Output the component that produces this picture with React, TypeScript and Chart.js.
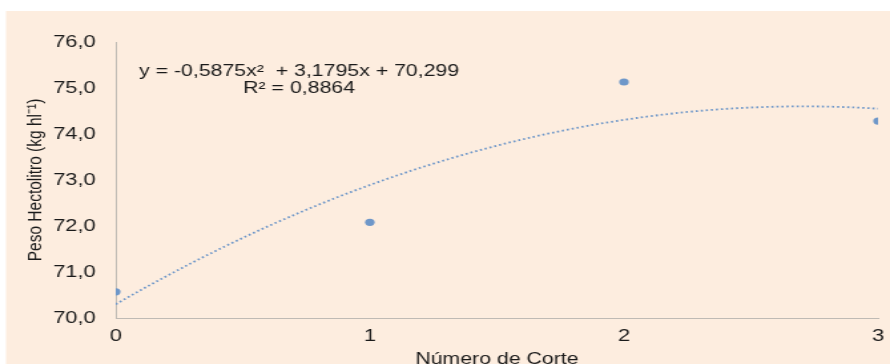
import React, { useEffect, useRef } from "react";
import { Chart, registerables } from "chart.js";

Chart.register(...registerables);

// ---- data ----
const cutNumbers = [0, 1, 2, 3];
const hectoliterWeight = [70.57, 72.08, 75.13, 74.28];
const trendCoefficients = [-0.5875, 3.1795, 70.299]; // y = a x² + b x + c (printed on the chart)
const yTickValues = [70, 71, 72, 73, 74, 75, 76];
const equationLines = ["y = -0,5875x²  + 3,1795x + 70,299", "R² = 0,8864"];
const xTitle = "Número de Corte";
const yTitle = "Peso Hectolitro (kg hl⁻¹)";

// ---- look ----
const STRETCH = 1.33;
const OUT_W = 890;
const OUT_H = 364;
const W = Math.round(OUT_W / STRETCH);
const FONT = "'Liberation Sans', Arial, sans-serif";
const PEACH = "#FDEDDF";
const BLUE = "#6E97C9";
const AXIS = "#BFBAB4";
const TEXT = "#1a1a1a";

const trendSteps = 60;
const trendData = Array.from({ length: trendSteps + 1 }, (_, i) => {
  const x0 = cutNumbers[0];
  const x1 = cutNumbers[cutNumbers.length - 1];
  const x = x0 + ((x1 - x0) * i) / trendSteps;
  const [a, b, c] = trendCoefficients;
  return { x, y: a * x * x + b * x + c };
});

const bgPlugin = {
  id: "bgPanel",
  beforeDraw(chart: any) {
    const { ctx } = chart;
    ctx.save();
    ctx.fillStyle = PEACH;
    ctx.fillRect(6 / STRETCH, 11, chart.width, chart.height);
    ctx.restore();
  },
};

const equationPlugin = {
  id: "equation",
  afterDraw(chart: any) {
    const { ctx, chartArea } = chart;
    const cx = 299 / STRETCH;
    ctx.save();
    ctx.fillStyle = TEXT;
    ctx.font = `16px ${FONT}`;
    ctx.textAlign = "center";
    ctx.textBaseline = "middle";
    equationLines.forEach((line, i) => {
      ctx.fillText(line, cx, chartArea.top + 30 + i * 17);
    });
    ctx.restore();
  },
};

export default function App() {
  const ref = useRef<HTMLCanvasElement | null>(null);

  useEffect(() => {
    document.body.style.margin = "0";
    const canvas = ref.current!;
    const chart = new Chart(canvas, {
      type: "scatter",
      data: {
        datasets: [
          {
            label: "Tendência",
            data: trendData,
            showLine: true,
            borderColor: BLUE,
            borderWidth: 1.8,
            borderDash: [1.6, 2.2],
            pointRadius: 0,
            fill: false,
            tension: 0,
            order: 2,
          },
          {
            label: "Peso Hectolitro",
            data: cutNumbers.map((x, i) => ({ x, y: hectoliterWeight[i] })),
            backgroundColor: BLUE,
            borderColor: BLUE,
            pointRadius: 3.6,
            pointBorderWidth: 0,
            order: 1,
          },
        ],
      },
      options: {
        responsive: false,
        animation: false,
        devicePixelRatio: 1,
        layout: { autoPadding: false, padding: { left: 0, top: 42, right: 9, bottom: 0 } },
        plugins: {
          legend: { display: false },
          tooltip: { enabled: false },
        },
        scales: {
          x: {
            type: "linear",
            min: cutNumbers[0],
            max: cutNumbers[cutNumbers.length - 1],
            afterFit: (s: any) => {
              s.height = 46;
              s.paddingLeft = 0;
              s.paddingRight = 0;
            },
            afterBuildTicks: (s: any) => {
              s.ticks = cutNumbers.map((v) => ({ value: v }));
            },
            grid: { display: false, drawTicks: false },
            border: { display: true, color: AXIS, width: 1 },
            ticks: {
              padding: 9,
              color: TEXT,
              font: { family: FONT, size: 16.5 },
              callback: (v: any) => String(v),
            },
            title: {
              display: true,
              text: xTitle,
              color: TEXT,
              font: { family: FONT, size: 16 },
              padding: { top: 0, bottom: -5 },
            },
          },
          y: {
            type: "linear",
            min: yTickValues[0],
            max: yTickValues[yTickValues.length - 1],
            afterFit: (s: any) => {
              s.width = 87;
              s.paddingTop = 0;
              s.paddingBottom = 0;
            },
            afterBuildTicks: (s: any) => {
              s.ticks = yTickValues.map((v) => ({ value: v }));
            },
            grid: { display: false, drawTicks: false },
            border: { display: true, color: AXIS, width: 1 },
            ticks: {
              padding: 15,
              color: TEXT,
              font: { family: FONT, size: 16.5 },
              callback: (v: any) => Number(v).toFixed(1).replace(".", ","),
            },
            title: {
              display: true,
              text: yTitle,
              color: TEXT,
              font: { family: FONT, size: 15.5 },
              padding: { top: 17, bottom: 0 },
            },
          },
        },
      },
      plugins: [bgPlugin, equationPlugin],
    } as any);
    return () => chart.destroy();
  }, []);

  return (
    <canvas
      ref={ref}
      width={W}
      height={OUT_H}
      style={{ display: "block", width: OUT_W + "px", height: OUT_H + "px" }}
    />
  );
}
